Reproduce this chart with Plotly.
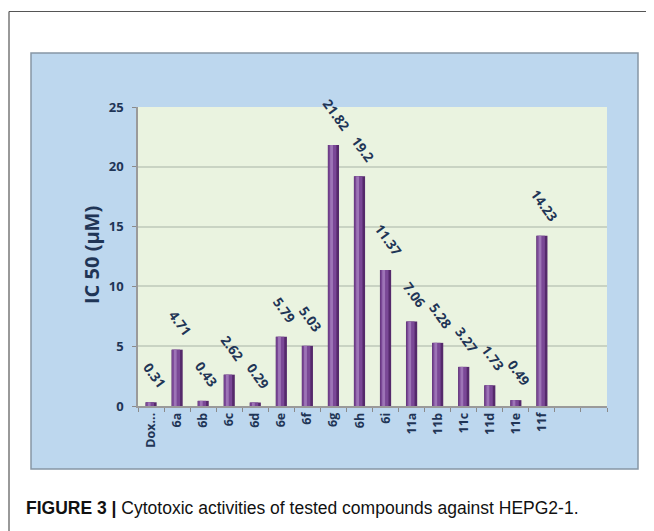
import plotly.graph_objects as go

# ---- data ----
compounds = ["Dox...", "6a", "6b", "6c", "6d", "6e", "6f", "6g", "6h", "6i",
             "11a", "11b", "11c", "11d", "11e", "11f"]
ic50 = [0.31, 4.71, 0.43, 2.62, 0.29, 5.79, 5.03, 21.82, 19.2, 11.37,
        7.06, 5.28, 3.27, 1.73, 0.49, 14.23]
value_labels = ["0.31", "4.71", "0.43", "2.62", "0.29", "5.79", "5.03", "21.82", "19.2",
                "11.37", "7.06", "5.28", "3.27", "1.73", "0.49", "14.23"]
empty_slots = [" ", "  "]
y_ticks = [0, 5, 10, 15, 20, 25]

# ---- geometry (pixels in the 654x531 window; the page body has an 8px margin) ----
OFF = 8
WIN_W, WIN_H = 654, 531
W, H = WIN_W - OFF, WIN_H - OFF
PL, PR, PT, PB = 138, 607, 107, 406  # plot area, window coordinates
ml, mr, mt, mb = PL - OFF, WIN_W - PR, PT - OFF, WIN_H - PB


def px_x(x):
    return (x - PL) / (PR - PL)


def px_y(y):
    return (PB - y) / (PB - PT)


NAVY = "#1f3556"
fig = go.Figure()

cats = compounds + empty_slots
bw = 0.43
# cylinder-like shading with overlaid bars
fig.add_trace(go.Bar(x=compounds, y=ic50, width=bw, marker=dict(color="#55296b", line=dict(width=0)),
                     hoverinfo="skip"))
fig.add_trace(go.Bar(x=compounds, y=ic50, width=bw * 0.72, offset=-bw / 2 + 0.02,
                     marker=dict(color="#7a4896", line=dict(width=0)), hoverinfo="skip"))
fig.add_trace(go.Bar(x=compounds, y=ic50, width=bw * 0.25, offset=-bw / 2 + 0.09,
                     marker=dict(color="#9d74b6", line=dict(width=0)), hoverinfo="skip"))

annotations = []
for c, v, t in zip(compounds, ic50, value_labels):
    annotations.append(dict(x=c, y=v, xref="x", yref="y", text=t, showarrow=False,
                            textangle=54, xanchor="center", yanchor="bottom", yshift=8, xshift=3,
                            font=dict(family="Open Sans", size=13.5, color=NAVY, weight="bold")))

annotations.append(dict(x=px_x(91), y=px_y(255), xref="paper", yref="paper", text="IC 50 (μM)",
                        showarrow=False, textangle=-90, xanchor="center", yanchor="middle",
                        font=dict(family="Open Sans", size=20, color=NAVY, weight="bold")))
annotations.append(dict(x=px_x(24), y=px_y(508), xref="paper", yref="paper",
                        text="<b>FIGURE 3 |</b> Cytotoxic activities of tested compounds against HEPG2-1.",
                        showarrow=False, xanchor="left", yanchor="middle",
                        font=dict(family="Liberation Sans", size=17.5, color="#111111")))

shapes = [
    # blue chart panel
    dict(type="rect", xref="paper", yref="paper", x0=px_x(31), x1=px_x(638), y0=px_y(469), y1=px_y(53),
         fillcolor="#bdd7ee", line=dict(color="#8796a5", width=1.5), layer="below"),
    # green back wall
    dict(type="rect", xref="paper", yref="paper", x0=px_x(138), x1=px_x(607), y0=px_y(406), y1=px_y(107),
         fillcolor="#eaf3e0", line=dict(width=0), layer="below"),
    # outer frame lines
    dict(type="line", xref="paper", yref="paper", x0=px_x(9), x1=px_x(660), y0=px_y(11.5), y1=px_y(11.5),
         line=dict(color="#555555", width=1.2)),
    dict(type="line", xref="paper", yref="paper", x0=px_x(9), x1=px_x(9), y0=px_y(11.5), y1=px_y(540),
         line=dict(color="#555555", width=1.2)),
]

fig.update_layout(
    width=W, height=H,
    margin=dict(l=ml, r=mr, t=mt, b=mb, autoexpand=False),
    paper_bgcolor="white", plot_bgcolor="rgba(0,0,0,0)",
    barmode="overlay", showlegend=False,
    annotations=annotations, shapes=shapes,
    xaxis=dict(type="category", categoryorder="array", categoryarray=cats, range=[-0.5, len(cats) - 0.5],
               tickmode="array", tickvals=cats, ticktext=cats,
               tickangle=-90, ticks="outside", tickson="boundaries", ticklen=4, tickcolor="#8a8a8a",
               showline=True, linecolor="#9a9a9a", linewidth=1.5, showgrid=False,
               tickfont=dict(family="Open Sans", size=12.5, color=NAVY, weight="bold")),
    yaxis=dict(range=[0, 25], tickvals=y_ticks, ticks="outside", ticklen=4, tickcolor="#8a8a8a",
               showline=True, linecolor="#9a9a9a", linewidth=1.5, ticklabelstandoff=6,
               showgrid=True, gridcolor="#c9d3c3", gridwidth=1.5, zeroline=False,
               tickfont=dict(family="Open Sans", size=13, color=NAVY, weight="bold")),
)

fig.write_html("out.html")
